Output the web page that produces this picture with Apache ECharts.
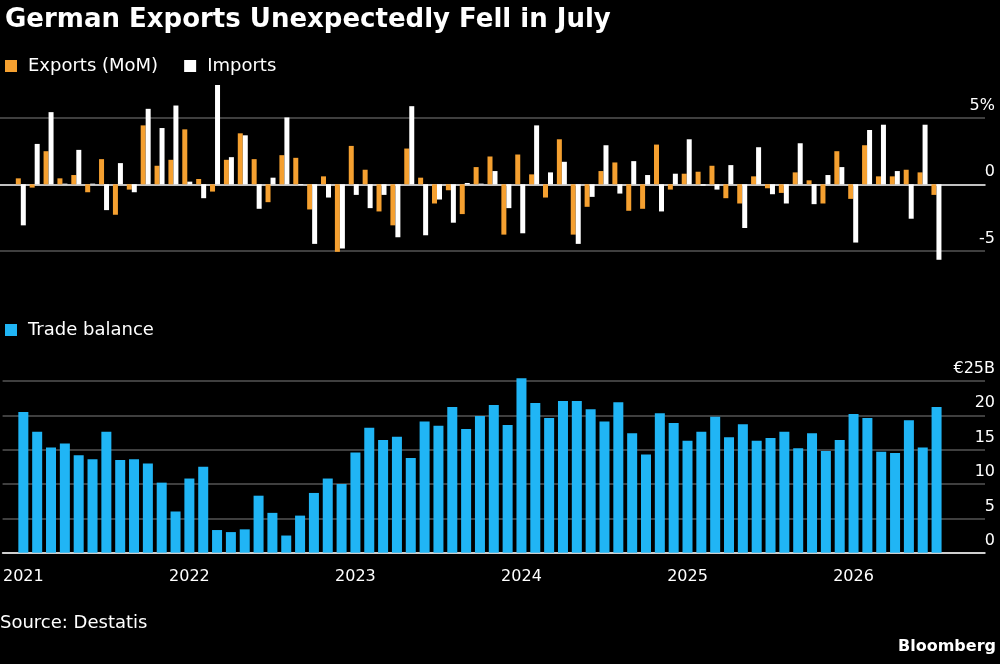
<!DOCTYPE html>
<html><head><meta charset="utf-8">
<script src="https://cdn.jsdelivr.net/npm/echarts@6/dist/echarts.min.js"></script>
<style>html,body{margin:0;background:#000}#c{width:1000px;height:664px}</style>
</head><body><div id="c"></div>
<script>
const years = [2021, 2022, 2023, 2024, 2025, 2026];
const exportsMoM = [0.45,-0.25,2.5,0.45,0.7,-0.6,1.9,-2.3,-0.4,4.45,1.4,1.85,4.15,0.4,-0.55,1.85,3.85,1.9,-1.35,2.2,2.0,-1.9,0.6,-5.1,2.9,1.1,-2.05,-3.1,2.7,0.5,-1.45,-0.45,-2.25,1.3,2.1,-3.8,2.25,0.75,-1.0,3.4,-3.8,-1.7,1.0,1.65,-2.0,-1.85,3.0,-0.4,0.8,0.95,1.4,-1.05,-1.45,0.6,-0.3,-0.65,0.9,0.3,-1.45,2.5,-1.1,2.95,0.6,0.6,1.1,0.9,-0.8];
const importsMoM = [-3.1,3.05,5.45,0.05,2.6,0.05,-1.95,1.6,-0.6,5.7,4.25,5.95,0.2,-1.05,7.5,2.05,3.7,-1.85,0.5,5.05,-0.05,-4.5,-1.0,-4.85,-0.8,-1.8,-0.8,-4.0,5.9,-3.85,-1.15,-2.9,0.1,0.05,1.0,-1.8,-3.7,4.45,0.9,1.7,-4.5,-0.95,2.95,-0.7,1.75,0.7,-2.05,0.8,3.4,-0.1,-0.4,1.45,-3.3,2.8,-0.75,-1.45,3.1,-1.5,0.7,1.3,-4.4,4.1,4.5,1.0,-2.6,4.5,-5.7];
const tradeBalance = [20.5,17.6,15.3,15.9,14.2,13.6,17.6,13.5,13.6,13.0,10.2,6.0,10.8,12.5,3.3,3.0,3.4,8.3,5.8,2.5,5.4,8.7,10.8,10.0,14.6,18.2,16.4,16.9,13.8,19.1,18.5,21.2,18.0,19.9,21.5,18.6,25.4,21.8,19.6,22.1,22.1,20.9,19.1,21.9,17.4,14.3,20.3,18.9,16.3,17.6,19.8,16.8,18.7,16.3,16.7,17.6,15.2,17.4,14.8,16.4,20.2,19.6,14.7,14.5,19.3,15.3,21.2];
const topTicks = {'-5':'-5','0':'0','5':'5%'};
const botTicks = {'0':'0','5':'5','10':'10','15':'15','20':'20','25':'€25B'};

const cats = ['pad'];
years.forEach(y => { for (let m = 0; m < 12; m++) cats.push(y + '-' + m); });
cats.length = 71;
for (let i = 0; i < 71; i++) if (cats[i] === undefined) cats[i] = 'pad' + i;
const pad = a => [null].concat(a);

const F = 'DejaVu Sans';
const FS = 16;
const LS = 18;
const chart = echarts.init(document.getElementById('c'));
chart.setOption({
  backgroundColor: '#000',
  animation: false,
  textStyle: {fontFamily: F},
  title: {text: 'German Exports Unexpectedly Fell in July', left: 0, top: 2,
    textStyle: {color: '#fff', fontSize: 26, fontWeight: 'bold', fontFamily: F}},
  legend: [
    {data: ['Exports (MoM)', 'Imports'], left: 0, top: 52, icon: 'rect', itemWidth: 12, itemHeight: 12, itemGap: 26,
      textStyle: {color: '#fff', fontSize: LS, fontFamily: F, padding: [0, 0, 0, 6]}},
    {data: ['Trade balance'], left: 0, top: 316, icon: 'rect', itemWidth: 12, itemHeight: 12,
      textStyle: {color: '#fff', fontSize: LS, fontFamily: F, padding: [0, 0, 0, 6]}}
  ],
  grid: [
    {left: 0, right: 15, top: 51.9, bottom: 347.3},
    {left: 0, right: 15, top: 381, bottom: 111.3}
  ],
  xAxis: [
    {type: 'category', data: cats, gridIndex: 0, axisLine: {lineStyle: {color: '#fff', width: 1.5}},
      axisTick: {show: false}, axisLabel: {show: false}},
    {type: 'category', data: cats, gridIndex: 1,
      axisLine: {lineStyle: {color: '#fff', width: 1.5}},
      axisTick: {alignWithLabel: true, length: 5, lineStyle: {color: '#fff'}, interval: (i) => i >= 1 && i <= 67 && (i - 1) % 3 === 0},
      axisLabel: {interval: 0, color: '#fff', fontSize: FS, margin: 16, fontFamily: F,
        formatter: (v) => { const p = v.split('-'); return (p.length === 2 && p[1] === '0') ? p[0] : ''; }}}
  ],
  yAxis: [
    {type: 'value', gridIndex: 0, position: 'right', min: -10, max: 10, interval: 5,
      axisLine: {show: false}, axisTick: {show: false},
      splitLine: {lineStyle: {color: ['transparent', '#555', 'transparent', '#555', 'transparent'], width: 1.5}},
      axisLabel: {color: '#fff', fontSize: FS, align: 'right', margin: 10, verticalAlign: 'bottom', padding: [0, 0, 4, 0],
        formatter: v => topTicks[String(v)] || ''}},
    {type: 'value', gridIndex: 1, position: 'right', min: 0, max: 25, interval: 5,
      axisLine: {show: false}, axisTick: {show: false},
      splitLine: {lineStyle: {color: '#555', width: 1.5}},
      axisLabel: {color: '#fff', fontSize: FS, align: 'right', margin: 10, verticalAlign: 'bottom', padding: [0, 0, 4, 0],
        formatter: v => botTicks[String(v)] || ''}}
  ],
  series: [
    {name: 'Exports (MoM)', type: 'bar', xAxisIndex: 0, yAxisIndex: 0, data: pad(exportsMoM), barWidth: 5, barGap: '0%',
      itemStyle: {color: '#f5a030'}},
    {name: 'Imports', type: 'bar', xAxisIndex: 0, yAxisIndex: 0, data: pad(importsMoM), barWidth: 5, barGap: '0%',
      itemStyle: {color: '#ffffff'}},
    {name: 'Trade balance', type: 'bar', xAxisIndex: 1, yAxisIndex: 1, data: pad(tradeBalance), barWidth: 10, clip: false,
      itemStyle: {color: '#20b5f5'}}
  ],
  graphic: [
    {type: 'text', left: 0, top: 614, style: {text: 'Source: Destatis', fill: '#fff', font: '18px "DejaVu Sans"'}},
    {type: 'text', right: 4, top: 639, style: {text: 'Bloomberg', fill: '#fff', font: 'bold 16px "DejaVu Sans"'}}
  ]
});
</script></body></html>
